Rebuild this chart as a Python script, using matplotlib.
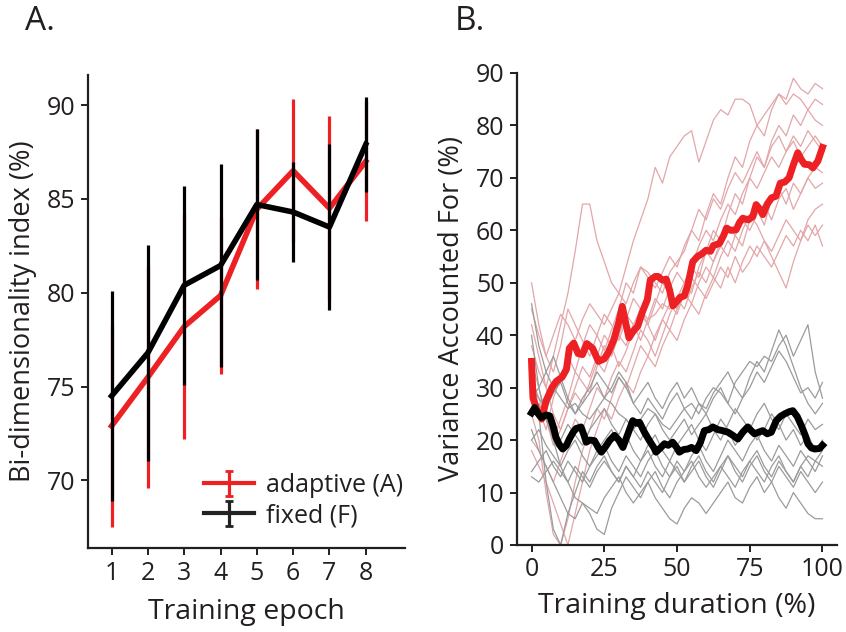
import numpy as np
import matplotlib
matplotlib.use("Agg")
import matplotlib.pyplot as plt

plt.rcParams['font.family'] = ['Open Sans', 'DejaVu Sans']
TXT = '#231f20'

# ---------------- Panel A data ----------------
epochs = [1, 2, 3, 4, 5, 6, 7, 8]
adaptive_mean = [72.9, 75.5, 78.2, 79.85, 84.45, 86.5, 84.5, 87.0]
adaptive_err = [5.4, 5.9, 6.0, 4.2, 4.25, 3.8, 4.9, 3.2]
fixed_mean = [74.5, 76.8, 80.4, 81.45, 84.7, 84.3, 83.5, 87.9]
fixed_err = [5.6, 5.75, 5.3, 5.4, 4.0, 2.65, 4.4, 2.55]
a_yticks = [70, 75, 80, 85, 90]

# ---------------- Panel B data ----------------
trace_x = [i * 2.5 for i in range(41)]

red_traces = [
    [45,40,36,40,44,42,39,43,46,44, 42,45,48,46,50,53,51,49,52,55, 53,57,60,58,63,67,65,70,74,72, 77,80,78,83,86,85,89,87,86,88, 87],
    [38,33,30,36,42,48,56,65,65,58, 54,50,48,53,58,62,66,72,69,74, 76,78,79,73,77,81,83,82,85,85, 84,80,82,84,86,84,86,85,83,85, 84],
    [50,42,36,33,38,45,42,39,36,40, 44,42,39,43,47,45,42,46,50,48, 45,49,53,51,56,60,58,63,67,65, 70,74,72,77,80,78,82,80,83,81, 80],
    [30,26,22,28,32,36,33,38,42,40, 37,41,45,50,48,53,52,50,48,52, 54,56,60,64,62,66,64,68,71,69, 72,75,72,76,78,75,77,74,76,78, 76],
    [35,30,25,20,24,28,33,31,29,34, 38,36,40,44,42,39,43,47,45,49, 52,50,48,53,56,54,58,61,59,57, 62,64,61,66,68,65,69,67,70,72, 71],
    [20,18,15,12,16,20,24,22,26,30, 28,32,35,33,37,41,39,36,40,44, 47,45,49,52,50,54,57,55,59,62, 60,63,65,62,66,68,64,67,70,68, 69],
    [25,20,10,2,0,5,12,18,22,26, 24,28,32,30,34,38,36,40,43,41, 45,48,46,50,53,51,55,58,56,60, 63,61,58,55,52,49,54,58,62,64, 65],
    [18,15,12,8,4,0,6,12,18,22, 26,24,28,31,29,33,36,34,38,41, 39,43,46,44,48,51,49,53,50,54, 57,55,58,56,59,62,60,58,61,59, 61],
    [42,36,30,25,22,26,30,34,32,36, 40,38,34,37,41,44,42,39,43,46, 44,48,51,49,47,50,53,51,55,52, 54,57,55,53,56,59,57,60,58,61, 57],
    [32,28,24,19,22,26,29,27,31,35, 33,37,40,38,42,45,43,44,46,45, 47,50,53,57,60,58,62,65,63,67, 70,68,71,74,72,75,78,76,79,77, 75],
]

gray_traces = [
    [46,38,33,30,28,26,27,25,24,26, 28,27,25,24,22,24,26,25,23,22, 24,26,27,25,28,30,29,27,31,33, 35,34,36,35,38,40,36,39,42,33, 28],
    [30,28,26,29,31,27,25,28,30,33, 31,29,32,30,27,29,31,28,26,29, 31,28,30,27,26,29,31,33,30,28, 32,35,33,37,41,38,34,30,27,25, 27],
    [25,27,24,22,20,23,21,19,22,24, 26,23,21,24,22,20,23,25,22,20, 22,24,21,23,25,22,20,23,26,24, 22,25,27,24,22,25,23,21,24,22, 23],
    [20,22,19,17,15,18,20,17,15,18, 20,22,19,21,18,16,19,21,18,16, 19,21,23,20,18,21,24,22,19,21, 23,20,22,25,23,20,22,19,21,18, 20],
    [14,16,18,15,13,16,14,12,15,17, 19,16,14,17,15,13,16,18,15,13, 16,14,17,19,16,14,17,20,18,16, 19,21,18,16,19,17,15,18,16,14, 17],
    [13,12,14,16,14,12,15,13,11,14, 16,14,12,15,13,11,14,12,10,13, 15,12,14,16,13,11,14,17,15,13, 16,18,15,13,16,14,12,15,17,16, 15],
    [35,25,12,3,0,6,10,14,12,15, 17,14,12,15,13,16,18,15,13,16, 14,12,15,17,14,12,15,13,11,14, 16,14,12,15,17,14,12,15,13,16, 18],
    [22,18,15,12,9,6,5,8,7,6, 9,11,13,10,8,10,12,9,7,5, 4,7,9,8,6,8,10,12,9,8, 11,13,10,12,9,7,10,8,6,5, 5],
    [40,30,24,20,15,12,9,8,6,3, 2,7,10,13,11,9,12,14,11,9, 12,14,16,13,11,13,15,17,14,12, 15,17,14,12,15,13,11,14,12,10, 12],
    [28,30,33,36,32,28,25,27,29,31, 28,30,33,31,27,25,28,26,24,27, 29,26,24,27,25,28,30,27,25,28, 30,33,31,34,37,35,32,29,30,28, 31],
]

red_mean_x = [0,0.5,2,3.5,5, 7,8.5,10.5,12,13, 14.5,16,17.5,19,21, 23,25,26.5,28.3,30,
              31.2,32.3,33.5,35,36.5, 38,39.8,40.8,42.5,43.5, 45,46.3,47.5,48.6,50,
              51,52.5,53.7,55.4,57, 58.5,60,61.5,62.5,64.6, 66,67,68.5,70.3,71.5,
              72.6,74.5,76,77.2,78.5, 79.5,81,82.5,84,85.5, 87,88.5,90,91.5,92.7,
              93.8,95.5,96.7,98.4,100]
red_mean_y = [35,28,25.5,24,27.5, 30,31.2,32,33.5,37.5, 38.5,36.5,36.3,38.4,37.5,
              35,35.5,36.8,39.2,42.5, 45.5,42.5,39.5,40.8,41.7, 44.3,46.8,50.5,51.2,51.2,
              50.5,50.7,48.5,45.6,46.5, 47.2,47.5,49.5,54,55, 55.5,56.2,56,57.1,57.5,
              59,60.4,60,60.1,61.5, 62.3,62,62.6,64.9,64, 63,65,66.2,66.5,69,
              69.2,70,72.5,74.8,73.5, 72.6,72.5,71.9,73.2,75.8]

black_mean_x = [0,1.1,2.3,3.4,5, 6.3,7.5,8.4,9.5,10.7, 12,13,14.3,15.3,17, 18,18.8,20,21.6,23,
                24,25.5,26.8,28.5,30, 31.4,33,34.8,36,37.1, 38.8,40.5,42,42.8,44.3,
                45.7,47,48.5,50,50.8, 52.3,53.7,55,56.6,58, 59.4,61,62.3,64,65.7,
                67.5,69.2,70.9,72.6,74.3, 75.5,76.6,78,79.5,81, 82.4,84.1,85.5,87,88.5,
                89.8,91.3,92.7,94,95, 96.2,97.3,99,100]
black_mean_y = [25.2,26.2,25,24.3,24.8, 24.6,22.5,20.5,19.2,18.3, 19,20.2,21.5,22.2,22.5,
                21,19.6,20,19.9,18.5, 17.7,18.8,19.9,20.9,20, 18.6,21,23.7,23.2,23.4,
                21.5,19.9,18.6,17.7,18.5, 19.3,19,19.6,18.5,17.7, 18.2,18.3,18.6,18,19.5,
                21.8,22,22.5,22,21.8, 21.5,20.9,20.2,21.5,22.5, 21.8,21.2,21.5,21.8,21.2,
                21.5,23.7,24.5,25,25.4, 25.6,24.5,22.8,21,19.3, 18.5,18.3,18.4,19]
b_xticks = [0, 25, 50, 75, 100]
b_yticks = [0, 10, 20, 30, 40, 50, 60, 70, 80, 90]

RED = '#ed2024'
PINK = '#e3a6a9'
GRAY = '#9b9b9b'

fig = plt.figure(figsize=(8.46, 6.32), dpi=100)

# ---------------- Panel A ----------------
axA = fig.add_axes([0.1040, 0.1329, 0.3747, 0.7484])
axA.errorbar(epochs, adaptive_mean, yerr=adaptive_err, color=RED, lw=4,
             elinewidth=2.3, capsize=0, zorder=2)
axA.errorbar(epochs, fixed_mean, yerr=fixed_err, color='black', lw=4,
             elinewidth=2.3, capsize=0, zorder=3)
hA = axA.errorbar([np.nan], [np.nan], yerr=[1], color=RED, lw=3, elinewidth=2.3, capsize=3, capthick=2)
hF = axA.errorbar([np.nan], [np.nan], yerr=[1], color='#222222', lw=3, elinewidth=2.3, capsize=3, capthick=2)
axA.set_xlim(0.35, 9.08)
axA.set_ylim(66.4, 91.6)
axA.set_xticks(epochs)
axA.set_yticks(a_yticks)
axA.set_xlabel('Training epoch', fontsize=20.5, color=TXT, labelpad=9)
axA.set_ylabel('Bi-dimensionality index (%)', fontsize=19.5, color=TXT, labelpad=7)
leg = axA.legend([hA, hF], ['adaptive (A)', 'fixed (F)'], loc='lower left',
                 bbox_to_anchor=(0.31, 0.005), frameon=False, fontsize=18,
                 handlelength=2.0, handletextpad=0.5, labelspacing=0.2, borderpad=0.2)
for t in leg.get_texts():
    t.set_color(TXT)

# ---------------- Panel B ----------------
axB = fig.add_axes([0.6111, 0.1377, 0.3783, 0.7468])
for tr in red_traces:
    axB.plot(trace_x, tr, color=PINK, lw=0.9, zorder=1)
for tr in gray_traces:
    axB.plot(trace_x, tr, color=GRAY, lw=0.9, zorder=2)
axB.plot(red_mean_x, red_mean_y, color=RED, lw=5, zorder=3, solid_joinstyle='round')
axB.plot(black_mean_x, black_mean_y, color='black', lw=5, zorder=4, solid_joinstyle='round')
axB.set_xlim(-5, 105)
axB.set_ylim(0, 90)
axB.set_xticks(b_xticks)
axB.set_yticks(b_yticks)
axB.set_xlabel('Training duration (%)', fontsize=20.5, color=TXT, labelpad=7)
axB.set_ylabel('Variance Accounted For (%)', fontsize=19.5, color=TXT, labelpad=7)

for ax in (axA, axB):
    for s in ('top', 'right'):
        ax.spines[s].set_visible(False)
    for s in ('left', 'bottom'):
        ax.spines[s].set_linewidth(1.6)
        ax.spines[s].set_color(TXT)
    ax.tick_params(labelsize=18, colors=TXT, length=5, width=1.4, direction='out', pad=4)

fig.text(0.030, 0.992, 'A.', fontsize=24, color=TXT, va='top', ha='left')
fig.text(0.538, 0.992, 'B.', fontsize=24, color=TXT, va='top', ha='left')

fig.savefig('out.png', dpi=100)
